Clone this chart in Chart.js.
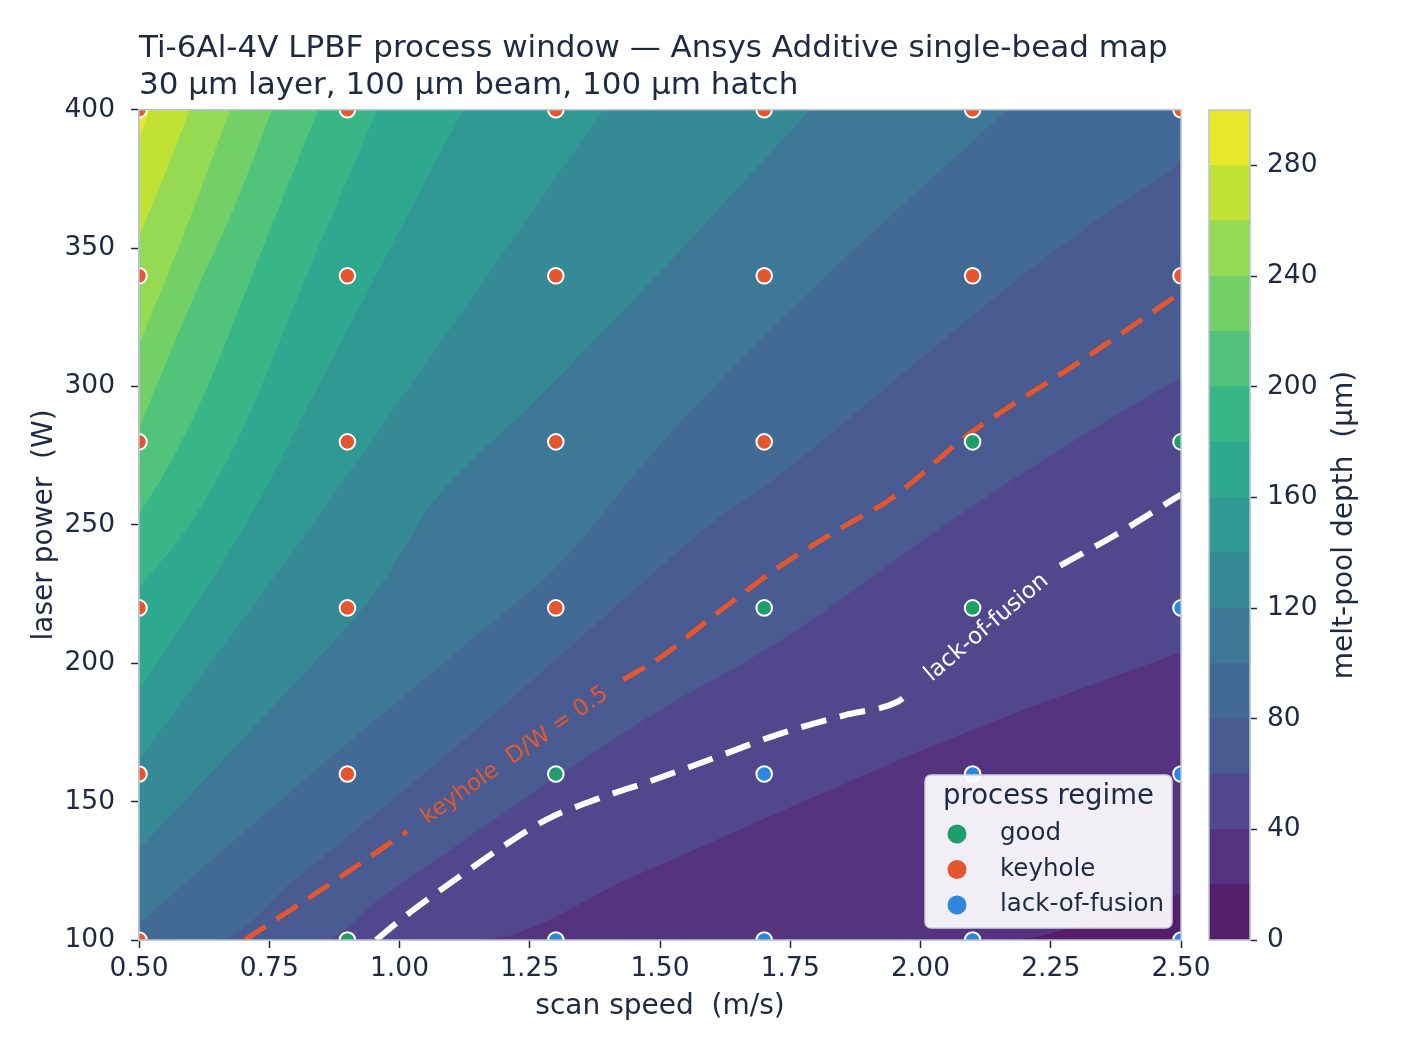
<!DOCTYPE html>
<html>
<head>
<meta charset="utf-8">
<script src="https://cdn.jsdelivr.net/npm/chart.js@4.4.1/dist/chart.umd.min.js"></script>
<style>
  html, body { margin: 0; padding: 0; background: #ffffff; }
  #wrap { position: relative; width: 1428px; height: 1054px; }
  #mainChart { position: absolute; left: 0; top: 0; }
  #cbarChart { position: absolute; left: 1195px; top: 0; }
</style>
</head>
<body>
<div id="wrap">
  <canvas id="mainChart" width="1428" height="1054"></canvas>
  <canvas id="cbarChart" width="233" height="1054"></canvas>
</div>
<script>
// ---- data ----
const SPEEDS = [0.5, 0.9, 1.3, 1.7, 2.1, 2.5];        // m/s
const POWERS = [100, 160, 220, 280, 340, 400];        // W
// regime per power row (100 W first), one code per speed: G good, K keyhole, L lack-of-fusion
const REGIME = [
  ["K", "G", "L", "L", "L", "L"],
  ["K", "K", "G", "L", "L", "L"],
  ["K", "K", "K", "G", "G", "L"],
  ["K", "K", "K", "K", "G", "G"],
  ["K", "K", "K", "K", "K", "K"],
  ["K", "K", "K", "K", "K", "K"]
];

const LEVELS = [0, 20, 40, 60, 80, 100, 120, 140, 160, 180, 200, 220, 240, 260, 280];
const ISO_20  = [[2.17, 100], [2.35, 108], [2.5, 117]];
const ISO_40  = [[1.154, 100], [1.45, 123], [1.75, 148], [2.1, 176], [2.5, 204]];
const ISO_60  = [[0.853, 100], [0.963, 115], [1.147, 139], [1.302, 159], [1.5, 183], [1.73, 208], [2.062, 252], [2.3, 281], [2.5, 303.5]];
const ISO_80  = [[0.648, 100], [0.8, 122], [0.963, 147], [1.147, 176], [1.4, 218], [1.609, 252], [1.73, 268], [2.0, 310], [2.25, 348], [2.5, 381]];
const ISO_100 = [[0.5, 106], [0.75, 147], [0.963, 181], [1.147, 210], [1.302, 235], [1.5, 279], [1.769, 331], [2.166, 400]];
const ISO_120 = [[0.5, 133], [0.75, 183], [0.963, 228], [1.064, 258], [1.25, 293], [1.448, 331], [1.788, 400]];
const ISO_140 = [[0.5, 165], [0.84, 252], [0.963, 285], [1.135, 331], [1.391, 400]];
const ISO_160 = [[0.5, 190], [0.711, 252], [0.83, 295], [0.96, 342], [1.122, 400]];
const ISO_180 = [[0.5, 227], [0.604, 252], [0.7, 285], [0.81, 335], [0.957, 400]];
const ISO_200 = [[0.5, 254], [0.547, 268], [0.62, 295], [0.75, 356], [0.844, 400]];
const ISO_220 = [[0.5, 285], [0.6, 330], [0.69, 368], [0.755, 400]];
const ISO_240 = [[0.5, 315], [0.6, 362], [0.675, 400]];
const ISO_260 = [[0.5, 354], [0.55, 377], [0.598, 400]];
const ISO_280 = [[0.5, 389], [0.521, 400]];

// process-window boundaries (split where the inline label sits)
const KEYHOLE_A = [[0.703, 100], [0.80, 112], [0.90, 124.5], [1.014, 139.2]];
const KEYHOLE_B = [[1.429, 194], [1.5, 202], [1.602, 217], [1.73, 235], [1.858, 250], [1.94, 259], [2.0, 268], [2.08, 281], [2.165, 292], [2.306, 309], [2.5, 334]];
const LOF_A = [[0.955, 100], [1.0, 107], [1.06, 115.5], [1.133, 125.3], [1.2, 134], [1.283, 143.6], [1.38, 151], [1.475, 157], [1.6, 165.5], [1.73, 174.5], [1.86, 181.5], [1.955, 186], [1.986, 190.4]];
const LOF_B = [[2.268, 235.3], [2.37, 245.9], [2.5, 261]];

// ---- styles ----
const TEXT = "#1d2a44";
const FRAME = "#b9c3d3";
const BAND_COLORS = ["#541e6b", "#55337f", "#51478c", "#4a5b92", "#436a95", "#3d7996", "#368a96", "#319994",
                     "#2fa890", "#39b688", "#51c37a", "#72d067", "#96d952", "#c2e135", "#eae629"];
const REGIME_STYLE = {
  G: { label: "good", color: "#1f9e6a" },
  K: { label: "keyhole", color: "#e4572e" },
  L: { label: "lack-of-fusion", color: "#2e86de" }
};

Chart.defaults.font.family = "'DejaVu Sans', sans-serif";
Chart.defaults.color = TEXT;

const X_MIN = SPEEDS[0], X_MAX = SPEEDS[SPEEDS.length - 1];
const Y_MIN = POWERS[0], Y_MAX = POWERS[POWERS.length - 1];
const toXY = pts => pts.map(p => ({ x: p[0], y: p[1] }));

// region above each iso line = deeper than that level; lines that start on the bottom edge
// also take in the full columns to their left
function fillPath(pts) {
  const out = toXY(pts);
  if (pts[0][1] === Y_MIN && pts[0][0] > X_MIN) out.unshift({ x: X_MIN, y: Y_MIN });
  return out;
}

const ISO_LINES = [ISO_20, ISO_40, ISO_60, ISO_80, ISO_100, ISO_120, ISO_140,
                   ISO_160, ISO_180, ISO_200, ISO_220, ISO_240, ISO_260, ISO_280];

const scatterSets = ["G", "K", "L"].map(code => {
  const pts = [];
  POWERS.forEach((p, r) => SPEEDS.forEach((s, c) => {
    if (REGIME[r][c] === code) pts.push({ x: s, y: p });
  }));
  return {
    label: REGIME_STYLE[code].label,
    data: pts,
    showLine: false,
    pointRadius: 7.8,
    pointHoverRadius: 7.8,
    pointBackgroundColor: REGIME_STYLE[code].color,
    pointBorderColor: "#ffffff",
    pointBorderWidth: 2,
    clip: 0
  };
});

function dashed(pts, color, width, dash) {
  return {
    data: toXY(pts),
    borderColor: color,
    borderWidth: width,
    borderDash: dash,
    borderCapStyle: "butt",
    pointRadius: 0,
    fill: false,
    cubicInterpolationMode: "monotone"
  };
}

const contourSets = [];
for (let i = ISO_LINES.length - 1; i >= 0; i--) {
  contourSets.push({
    data: fillPath(ISO_LINES[i]),
    backgroundColor: BAND_COLORS[i + 1],
    borderColor: "rgba(0,0,0,0)",
    borderWidth: 1,
    pointRadius: 0,
    fill: "end",
    cubicInterpolationMode: "monotone"
  });
}
contourSets.push({
  data: [{ x: X_MIN, y: Y_MIN }, { x: X_MAX, y: Y_MIN }],
  backgroundColor: BAND_COLORS[0],
  borderColor: "rgba(0,0,0,0)",
  borderWidth: 1,
  pointRadius: 0,
  fill: "end"
});

// ---- plugins ----
const whiteBg = {
  id: "whiteBg",
  beforeDraw(chart) {
    const ctx = chart.ctx;
    ctx.save();
    ctx.fillStyle = "#ffffff";
    ctx.fillRect(0, 0, chart.width, chart.height);
    ctx.restore();
  }
};

const frame = {
  id: "frame",
  afterDatasetsDraw(chart) {
    const { ctx, chartArea: a } = chart;
    ctx.save();
    ctx.strokeStyle = FRAME;
    ctx.lineWidth = 1.5;
    ctx.strokeRect(a.left, a.top, a.right - a.left, a.bottom - a.top);
    ctx.restore();
  }
};

function inlineLabel(chart, from, to, text, color, size) {
  const { ctx, scales } = chart;
  const x1 = scales.x.getPixelForValue(from[0]), y1 = scales.y.getPixelForValue(from[1]);
  const x2 = scales.x.getPixelForValue(to[0]), y2 = scales.y.getPixelForValue(to[1]);
  ctx.save();
  ctx.translate((x1 + x2) / 2, (y1 + y2) / 2);
  ctx.rotate(Math.atan2(y2 - y1, x2 - x1));
  ctx.font = size + "px 'DejaVu Sans', sans-serif";
  ctx.fillStyle = color;
  ctx.textAlign = "center";
  ctx.textBaseline = "middle";
  ctx.fillText(text, 0, 0);
  ctx.restore();
}

const contourLabels = {
  id: "contourLabels",
  afterDatasetsDraw(chart) {
    inlineLabel(chart, KEYHOLE_A[KEYHOLE_A.length - 1], KEYHOLE_B[0], "keyhole  D/W = 0.5", "#e0582f", 23);
    inlineLabel(chart, LOF_A[LOF_A.length - 1], LOF_B[0], "lack-of-fusion", "#ffffff", 23);
  }
};

const legendBox = {
  id: "legendBox",
  afterDraw(chart) {
    const { ctx, chartArea: a } = chart;
    const w = 247, h = 153;
    const x0 = a.right - 9 - w, y0 = a.bottom - 12 - h;
    ctx.save();
    ctx.beginPath();
    ctx.roundRect(x0, y0, w, h, 6);
    ctx.fillStyle = "rgba(255,255,255,0.92)";
    ctx.fill();
    ctx.strokeStyle = "#cdd1dc";
    ctx.lineWidth = 1.5;
    ctx.stroke();
    ctx.fillStyle = TEXT;
    ctx.textBaseline = "middle";
    ctx.textAlign = "center";
    ctx.font = "27.5px 'DejaVu Sans', sans-serif";
    ctx.fillText("process regime", x0 + w / 2, y0 + 22);
    ctx.textAlign = "left";
    ctx.font = "24.5px 'DejaVu Sans', sans-serif";
    scatterSets.forEach((ds, i) => {
      const cy = y0 + 59 + i * 35.5;
      ctx.beginPath();
      ctx.arc(x0 + 32, cy, 9.5, 0, Math.PI * 2);
      ctx.fillStyle = ds.pointBackgroundColor;
      ctx.fill();
      ctx.fillStyle = TEXT;
      ctx.fillText(ds.label, x0 + 75, cy);
    });
    ctx.restore();
  }
};

const axisGrid = {
  display: true,
  drawOnChartArea: false,
  drawTicks: true,
  tickLength: 8,
  tickWidth: 1.5,
  tickColor: TEXT
};

new Chart(document.getElementById("mainChart"), {
  type: "line",
  data: {
    datasets: [
      ...scatterSets,
      dashed(KEYHOLE_A, "#e4572e", 5, [25, 13]),
      dashed(KEYHOLE_B, "#e4572e", 5, [25, 13]),
      dashed(LOF_A, "#ffffff", 6, [26, 14]),
      dashed(LOF_B, "#ffffff", 6, [26, 14]),
      ...contourSets
    ]
  },
  options: {
    responsive: false,
    animation: false,
    devicePixelRatio: 1,
    layout: { padding: { left: 0, right: 247, top: 0, bottom: 0 } },
    plugins: {
      legend: { display: false },
      tooltip: { enabled: false },
      title: {
        display: true,
        fullSize: false,
        align: "start",
        text: ["Ti-6Al-4V LPBF process window \u2014 Ansys Additive single-bead map",
               "30 \u00b5m layer, 100 \u00b5m beam, 100 \u00b5m hatch"],
        color: TEXT,
        font: { size: 31, weight: "normal", lineHeight: 1.19 },
        padding: { top: 31, bottom: 5 }
      }
    },
    scales: {
      x: {
        type: "linear",
        min: X_MIN,
        max: X_MAX,
        ticks: {
          stepSize: 0.25,
          autoSkip: false,
          maxRotation: 0,
          padding: 5,
          font: { size: 26.5 },
          color: TEXT,
          callback: v => v.toFixed(2)
        },
        title: {
          display: true,
          text: "scan speed  (m/s)",
          color: TEXT,
          font: { size: 28 },
          padding: { top: 0, bottom: 30 }
        },
        grid: axisGrid,
        border: { display: true, color: FRAME, width: 1.5 },
        afterFit(scale) { scale.height = 114; }
      },
      y: {
        type: "linear",
        min: Y_MIN,
        max: Y_MAX,
        ticks: { stepSize: 50, padding: 16, font: { size: 26.5 }, color: TEXT },
        title: {
          display: true,
          text: "laser power  (W)",
          color: TEXT,
          font: { size: 28 },
          padding: { top: 28, bottom: 0 }
        },
        grid: axisGrid,
        border: { display: true, color: FRAME, width: 1.5 },
        afterFit(scale) { scale.width = 139; }
      }
    }
  },
  plugins: [whiteBg, frame, contourLabels, legendBox]
});

// ---- colour bar: one stacked bar, one segment per contour band ----
const cbarTitle = {
  id: "cbarTitle",
  afterDraw(chart) {
    const { ctx, chartArea: a } = chart;
    ctx.save();
    ctx.translate(150, (a.top + a.bottom) / 2);
    ctx.rotate(-Math.PI / 2);
    ctx.font = "28px 'DejaVu Sans', sans-serif";
    ctx.fillStyle = TEXT;
    ctx.textAlign = "center";
    ctx.textBaseline = "middle";
    ctx.fillText("melt-pool depth  (\u00b5m)", 0, 0);
    ctx.restore();
  }
};

const BAND_STEP = LEVELS[1] - LEVELS[0];
new Chart(document.getElementById("cbarChart"), {
  type: "bar",
  data: {
    labels: ["depth"],
    datasets: LEVELS.map((lo, i) => ({
      data: [BAND_STEP],
      backgroundColor: BAND_COLORS[i],
      borderWidth: 0,
      barPercentage: 1,
      categoryPercentage: 1
    }))
  },
  options: {
    responsive: false,
    animation: false,
    devicePixelRatio: 1,
    layout: { padding: { left: 14, right: 0, top: 110, bottom: 114 } },
    plugins: { legend: { display: false }, tooltip: { enabled: false } },
    scales: {
      x: { display: false, stacked: true },
      y: {
        stacked: true,
        position: "right",
        min: LEVELS[0],
        max: LEVELS[LEVELS.length - 1] + BAND_STEP,
        ticks: { stepSize: 40, includeBounds: false, padding: 10, font: { size: 26.5 }, color: TEXT },
        grid: { display: true, drawOnChartArea: false, drawTicks: true, tickLength: 7, tickWidth: 1.5, tickColor: TEXT },
        border: { display: true, color: FRAME, width: 1.5 },
        afterFit(scale) { scale.width = 178; }
      }
    }
  },
  plugins: [frame, cbarTitle]
});
</script>
</body>
</html>
